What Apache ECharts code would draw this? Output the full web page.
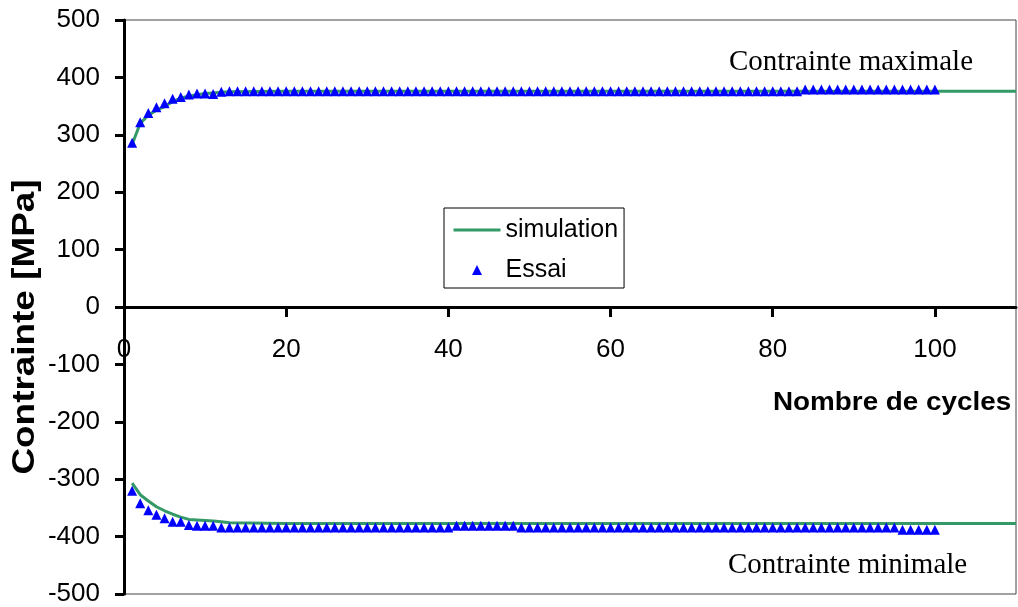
<!DOCTYPE html>
<html><head><meta charset="utf-8">
<script src="https://cdn.jsdelivr.net/npm/echarts@6/dist/echarts.min.js"></script>
<style>html,body{margin:0;padding:0;background:#fff}#c{width:1018px;height:607px}</style>
</head><body><div id="c"></div>
<script>
const xTickValues = [0, 20, 40, 60, 80, 100];
const essaiCycles = [1,2,3,4,5,6,7,8,9,10,11,12,13,14,15,16,17,18,19,20,
  21,22,23,24,25,26,27,28,29,30,31,32,33,34,35,36,37,38,39,40,
  41,42,43,44,45,46,47,48,49,50,51,52,53,54,55,56,57,58,59,60,
  61,62,63,64,65,66,67,68,69,70,71,72,73,74,75,76,77,78,79,80,
  81,82,83,84,85,86,87,88,89,90,91,92,93,94,95,96,97,98,99,100];
const essaiMax = [286,322,338,348,355,363,366,370,372,372,
  371,375,376,376,376,376,376,376,376,376,
  376,376,376,376,376,376,376,376,376,376,
  376,376,376,376,376,376,376,376,376,376,
  376,376,376,376,376,376,376,376,376,376,
  376,376,376,376,376,376,376,376,376,376,
  376,376,376,376,376,376,376,376,376,376,
  376,376,376,376,376,376,376,376,376,376,
  376,376,376,379,379,379,379,379,379,379,
  379,379,379,379,379,379,379,379,379,379];
const essaiMin = [-320,-342,-354,-362,-368,-374,-374,-380,-381,-381,
  -381,-384,-384,-384,-384,-384,-384,-384,-384,-384,
  -384,-384,-384,-384,-384,-384,-384,-384,-384,-384,
  -384,-384,-384,-384,-384,-384,-384,-384,-384,-384,
  -381,-381,-381,-381,-381,-381,-381,-381,-384,-384,
  -384,-384,-384,-384,-384,-384,-384,-384,-384,-384,
  -384,-384,-384,-384,-384,-384,-384,-384,-384,-384,
  -384,-384,-384,-384,-384,-384,-384,-384,-384,-384,
  -384,-384,-384,-384,-384,-384,-384,-384,-384,-384,
  -384,-384,-384,-384,-384,-388,-388,-388,-388,-388];
const simCycles = [1,2,3,4,5,6,7,8,9,10,11,12,13,20,30,40,50,60,70,80,90,100,110];
const simMax = [283,320,334,343,349,358,364,367,370,372,373,374,375,376,376,376,376,376,376,376,376,376,376];
const simMin = [-307,-327,-338,-348,-355,-361,-366,-370,-371,-372,-373,-374,-376,-377,-377,-377,-377,-377,-377,-377,-377,-377,-377];

const pairs = (xs, ys) => xs.map((x, i) => [x, ys[i]]);
const essaiData = pairs(essaiCycles, essaiMax).concat(pairs(essaiCycles, essaiMin));

const SANS = '"Liberation Sans", Arial, sans-serif';
const SERIF = '"Liberation Serif", "Times New Roman", serif';
const GREEN = '#339966';

const chart = echarts.init(document.getElementById('c'), null, {renderer: 'canvas'});
chart.setOption({
  animation: false,
  backgroundColor: '#fff',
  grid: {left: 124, right: 2, top: 20, bottom: 13, show: true, borderColor: '#444', borderWidth: 1,
         backgroundColor: 'transparent', containLabel: false, outerBoundsMode: 'none'},
  xAxis: {
    type: 'value', min: 0, max: 110, interval: 20, position: 'bottom', offset: -287,
    axisLine: {onZero: false, lineStyle: {color: '#000', width: 3}},
    axisTick: {show: true, inside: false, length: 10, lineStyle: {color: '#000', width: 3}, customValues: xTickValues},
    axisLabel: {fontFamily: SANS, fontSize: 26, color: '#000', margin: 30, showMaxLabel: false},
    splitLine: {show: false}
  },
  yAxis: {
    type: 'value', min: -500, max: 500, interval: 100,
    axisLine: {show: true, onZero: false, lineStyle: {color: '#000', width: 3}},
    axisTick: {show: true, inside: false, length: 9, lineStyle: {color: '#000', width: 3}},
    axisLabel: {fontFamily: SANS, fontSize: 26, color: '#000', margin: 24},
    splitLine: {show: false}
  },
  legend: {
    orient: 'vertical', left: 444, top: 208, itemWidth: 47, itemHeight: 10, itemGap: 12,
    padding: [8, 6, 4, 8], borderColor: '#000', borderWidth: 1, backgroundColor: '#fff',
    selectedMode: false, symbolKeepAspect: true,
    textStyle: {fontFamily: SANS, fontSize: 25, color: '#000', lineHeight: 28},
    data: [{name: 'simulation', itemStyle: {opacity: 0}, lineStyle: {width: 3, color: GREEN}},
           {name: 'Essai', icon: 'path://M5,0L10,10L0,10Z'}]
  },
  graphic: [
    {type: 'text', x: 729, y: 62, style: {text: 'Contrainte maximale', font: '29px ' + SERIF, fill: '#000', align: 'left', verticalAlign: 'middle'}},
    {type: 'text', x: 728, y: 565, style: {text: 'Contrainte minimale', font: '29px ' + SERIF, fill: '#000', align: 'left', verticalAlign: 'middle'}},
    {type: 'text', x: 773, y: 403, scaleX: 1.07, style: {text: 'Nombre de cycles', font: 'bold 26px ' + SANS, fill: '#000', align: 'left', verticalAlign: 'middle'}},
    {type: 'text', x: 25, y: 327, rotation: Math.PI / 2, scaleX: 1.19, style: {text: 'Contrainte [MPa]', font: 'bold 31px ' + SANS, fill: '#000', align: 'center', verticalAlign: 'middle'}}
  ],
  series: [
    {name: 'simulation', type: 'line', data: pairs(simCycles, simMax), symbol: 'none', showSymbol: false, smooth: false,
     lineStyle: {color: GREEN, width: 3}, itemStyle: {color: GREEN}, z: 2},
    {name: 'simulation', type: 'line', data: pairs(simCycles, simMin), symbol: 'none', showSymbol: false, smooth: false,
     lineStyle: {color: GREEN, width: 3}, itemStyle: {color: GREEN}, z: 2},
    {name: 'Essai', type: 'scatter', data: essaiData, symbol: 'triangle', symbolSize: 10,
     itemStyle: {color: '#0000FF', opacity: 1}, z: 3}
  ]
});
</script></body></html>
